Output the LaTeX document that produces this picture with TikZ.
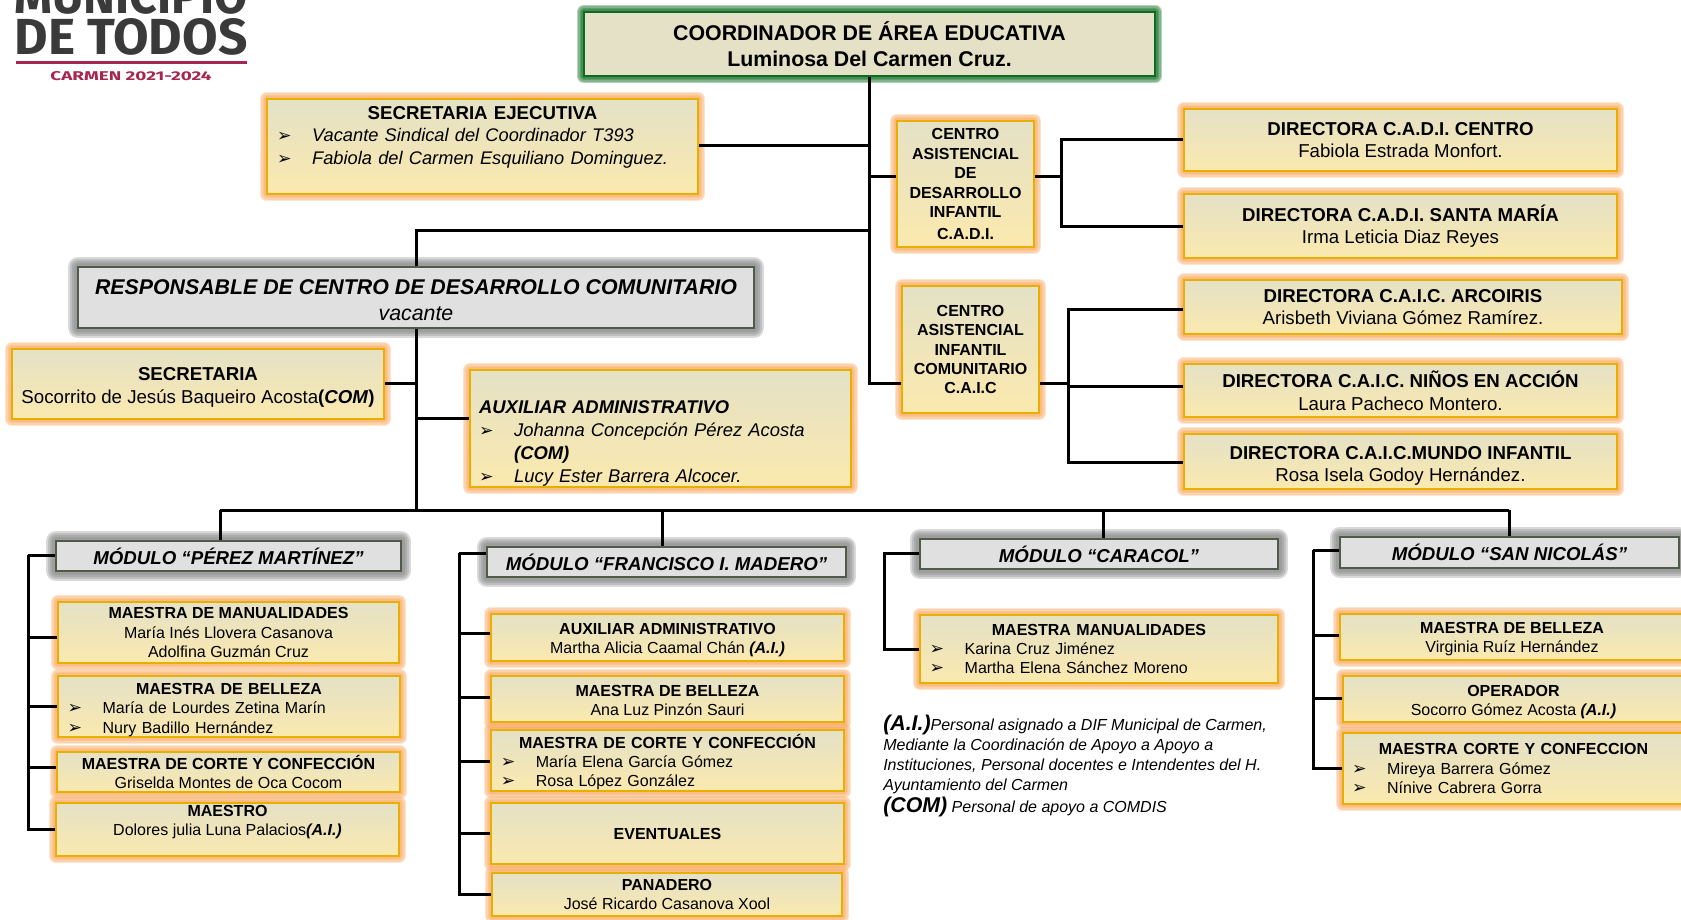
\documentclass[tikz,border=0pt]{standalone}
\usepackage{fontspec}
\usepackage{graphicx}
\setmainfont{Liberation Sans}
\newfontfamily\dingfont{DejaVu Sans}
\newfontfamily\logofont{Fira Sans}
\definecolor{edgeorange}{HTML}{E8AE00}
\definecolor{gloworange}{HTML}{F9A860}
\definecolor{edgegray}{HTML}{4F5B47}
\definecolor{edgegreen}{HTML}{0B6B1E}
\definecolor{logogray}{HTML}{3A3A3A}
\definecolor{logored}{HTML}{A6264F}
\definecolor{E4}{HTML}{E4E1C6}
\definecolor{B4}{HTML}{FBE9AE}
\newcommand{\itemrow}[1]{\makebox[\hsize][l]{\hspace*{6pt}\makebox[26.25pt][l]{\dingfont\fontsize{13}{9}\selectfont ➢}#1}}
\newcommand{\topgap}[1]{\rule{0pt}{#1pt}}
\tikzset{
  conn/.style={line width=2.25pt, black},
  spot/.style n args={4}{at={({(#1+#3)/2},{(#2+#4)/2})}, minimum width={(#3-#1)*.75}, minimum height={(#4-#2)*.75}},
  glow/.style 2 args={
    preaction={draw=#1, draw opacity=.3, line width=#2, line join=round},
    preaction={draw=#1, draw opacity=.3, line width=.8*#2, line join=round},
    preaction={draw=#1, draw opacity=.3, line width=.6*#2, line join=round},
    preaction={draw=#1, draw opacity=.3, line width=.4*#2, line join=round}},
  orangebox/.style={glow={gloworange}{11pt}, draw=edgeorange, line width=2.1pt, top color=E4, bottom color=B4, inner sep=0pt, align=center, font=\fontsize{12}{14.6}\selectfont},
  bigbox/.style={orangebox, font=\fontsize{14}{17}\selectfont},
  graybox/.style={glow={gray}{15pt}, draw=edgegray, line width=2.1pt, fill=black!12, inner sep=0pt, align=center, font=\bfseries\itshape\fontsize{14}{17}\selectfont},
  greenbox/.style={glow={edgegreen}{11pt}, draw=edgegreen, line width=2.1pt, fill=E4, inner sep=0pt, align=center, font=\bfseries\fontsize{16}{19.5}\selectfont}
}
\begin{document}
\begin{tikzpicture}[x=.75pt, y=-.75pt]
\useasboundingbox (0,0) rectangle (1681,920);
\clip (0,0) rectangle (1681,920);
\node[text=logogray, inner sep=0pt] (logoTop) at (131,-4) {\resizebox{174.75pt}{27pt}{\logofont\bfseries MUNICIPIO}};
\node[text=logogray, inner sep=0pt] (logoMid) at (131,37) {\resizebox{174.75pt}{27pt}{\logofont\bfseries DE TODOS}};
\fill[logored] (16,61) rectangle (247,64.5);
\node[text=logored, inner sep=0pt] (logoSub) at (131,76.5) {\resizebox{120.75pt}{6.75pt}{\logofont\bfseries CARMEN 2021-2024}};

\node[greenbox, spot={584}{12}{1155}{76}] (coord) {COORDINADOR DE ÁREA EDUCATIVA\\Luminosa Del Carmen Cruz.};
\node[bigbox, text width=320pt, spot={267}{99}{698}{194}] (secEje) {\textbf{SECRETARIA EJECUTIVA}\\\itemrow{\fontsize{13.7}{17}\itshape Vacante Sindical del Coordinador T393}\\\itemrow{\fontsize{13.7}{17}\itshape Fabiola del Carmen Esquiliano Dominguez.\rule[-17pt]{0pt}{0pt}}};
\node[orangebox, font=\bfseries\fontsize{12}{14.6}\selectfont, spot={897}{121}{1034}{247}] (cadi) {CENTRO\\ASISTENCIAL\\DE\\DESARROLLO\\INFANTIL\\[1.5pt]C.A.D.I.};
\node[orangebox, font=\bfseries\fontsize{12}{14.4}\selectfont, spot={902}{286}{1039}{413}] (caic) {CENTRO\\ASISTENCIAL\\INFANTIL\\COMUNITARIO\\C.A.I.C};
\node[bigbox, spot={1184}{109}{1617}{171}] (dirCentro) {\textbf{DIRECTORA C.A.D.I. CENTRO}\\Fabiola Estrada Monfort.};
\node[bigbox, spot={1184}{194}{1617}{258}] (dirSanta) {\textbf{DIRECTORA C.A.D.I. SANTA MARÍA}\\Irma Leticia Diaz Reyes};
\node[bigbox, spot={1184}{280}{1622}{334}] (dirArco) {\textbf{DIRECTORA C.A.I.C. ARCOIRIS}\\Arisbeth Viviana Gómez Ramírez.};
\node[bigbox, spot={1184}{364}{1617}{417}] (dirNinos) {\textbf{DIRECTORA C.A.I.C. NIÑOS EN ACCIÓN}\\Laura Pacheco Montero.};
\node[bigbox, spot={1184}{434}{1617}{489}] (dirMundo) {\topgap{16.5}\textbf{DIRECTORA C.A.I.C.MUNDO INFANTIL}\\Rosa Isela Godoy Hernández.};
\node[graybox, font=\fontsize{16}{19.5}\selectfont\itshape, spot={78}{267}{754}{328}] (resp) {\topgap{15}\textbf{RESPONSABLE DE CENTRO DE DESARROLLO COMUNITARIO}\\vacante};
\node[bigbox, spot={12}{349}{384}{419}] (secre) {\topgap{15}\textbf{SECRETARIA}\\Socorrito de Jesús Baqueiro Acosta\textbf{(\textit{COM})}};
\node[bigbox, text width=284pt, spot={470}{370}{851}{487}, font=\itshape\fontsize{13.8}{17.25}\selectfont] (auxAdm) {\makebox[\hsize][l]{\hspace*{6pt}\topgap{32}\textbf{AUXILIAR ADMINISTRATIVO}}\\\itemrow{Johanna Concepción Pérez Acosta}\\\makebox[\hsize][l]{\hspace*{32.25pt}\textbf{(COM)}}\\\itemrow{Lucy Ester Barrera Alcocer.}};

\node[graybox, spot={56}{541}{401}{571}] (modPerez) {MÓDULO “PÉREZ MARTÍNEZ”};
\node[graybox, spot={487}{547}{846}{577}] (modMadero) {MÓDULO “FRANCISCO I. MADERO”};
\node[graybox, spot={920}{539}{1278}{569}] (modCaracol) {MÓDULO “CARACOL”};
\node[graybox, spot={1340}{537}{1679}{568}] (modSan) {MÓDULO “SAN NICOLÁS”};

\node[orangebox, spot={58}{602}{399}{663}] (perManual) {\textbf{MAESTRA DE MANUALIDADES}\\María Inés Llovera Casanova\\Adolfina Guzmán Cruz};
\node[orangebox, text width=254pt, spot={58}{676}{400}{737}] (perBelleza) {\topgap{13.5}\textbf{MAESTRA DE BELLEZA}\\\itemrow{María de Lourdes Zetina Marín}\\\itemrow{Nury Badillo Hernández}};
\node[orangebox, spot={57}{752}{400}{792}] (perCorte) {\textbf{MAESTRA DE CORTE Y CONFECCIÓN}\\Griselda Montes de Oca Cocom};
\node[orangebox, spot={56}{803}{399}{856}] (perMaestro) {\textbf{MAESTRO}\\Dolores julia Luna Palacios\textbf{\textit{(A.I.)}}\rule[-13.5pt]{0pt}{0pt}};

\node[orangebox, spot={491}{614}{844}{661}] (madAux) {\topgap{12.6}\textbf{AUXILIAR ADMINISTRATIVO}\\Martha Alicia Caamal Chán \textbf{\textit{(A.I.)}}};
\node[orangebox, spot={491}{676}{844}{722}] (madBelleza) {\topgap{11}\textbf{MAESTRA DE BELLEZA}\\Ana Luz Pinzón Sauri};
\node[orangebox, text width=262pt, spot={491}{730}{844}{791}] (madCorte) {\topgap{13}\textbf{MAESTRA DE CORTE Y CONFECCIÓN}\\\itemrow{María Elena García Gómez}\\\itemrow{Rosa López González}};
\node[orangebox, font=\bfseries\fontsize{12}{14.6}\selectfont, spot={491}{803}{844}{864}] (madEvent) {EVENTUALES};
\node[orangebox, spot={492}{873}{842}{916}] (madPan) {\textbf{PANADERO}\\José Ricardo Casanova Xool};

\node[orangebox, text width=266pt, spot={920}{615}{1278}{683}] (carManual) {\textbf{MAESTRA MANUALIDADES}\\\itemrow{Karina Cruz Jiménez}\\\itemrow{Martha Elena Sánchez Moreno}};
\node[anchor=north west, inner sep=0pt, align=left, font=\itshape\fontsize{12}{15}\selectfont] (noteBox) at (883,715) {\textbf{\fontsize{16}{15}\selectfont (A.I.)}Personal asignado a DIF Municipal de Carmen,\\Mediante la Coordinación de Apoyo a Apoyo a\\Instituciones, Personal docentes e Intendentes del H.\\Ayuntamiento del Carmen\\[1.5pt]\textbf{\fontsize{16}{15}\selectfont (COM)} Personal de apoyo a COMDIS};

\node[orangebox, spot={1340}{614}{1684}{660}] (sanBelleza) {\topgap{11.8}\textbf{MAESTRA DE BELLEZA}\\Virginia Ruíz Hernández};
\node[orangebox, spot={1343}{676}{1684}{722}] (sanOper) {\topgap{12.6}\textbf{OPERADOR}\\Socorro Gómez Acosta \textbf{\textit{(A.I.)}}};
\node[orangebox, text width=254pt, spot={1343}{733}{1684}{804}] (sanCorte) {\textbf{MAESTRA CORTE Y CONFECCION}\\\itemrow{Mireya Barrera Gómez}\\\itemrow{Nínive Cabrera Gorra}};

\draw[conn] (coord.south) |- (caic.west |- 0,383);
\draw[conn] (secEje.east |- 0,146) -- (coord.south |- 0,146);
\draw[conn] (cadi.west |- 0,177) -- (coord.south |- 0,177);
\draw[conn] (coord.south |- 0,230) -| (resp.north);

\coordinate (forkCadi) at (1061,177);
\draw[conn] (cadi.east |- forkCadi) -- (forkCadi);
\foreach \dirname/\branchy in {dirCentro/140, dirSanta/226}
  \draw[conn] (forkCadi) |- (\dirname.west |- 0,\branchy);
\coordinate (forkCaic) at (1068,383);
\draw[conn] (caic.east |- forkCaic) -- (forkCaic);
\foreach \dirname/\branchy in {dirArco/309, dirNinos/386, dirMundo/462}
  \draw[conn] (forkCaic) |- (\dirname.west |- 0,\branchy);

\coordinate (busLeft) at (220,510);
\coordinate (busRight) at (1509,510);
\draw[conn] (busLeft) -- (busRight);
\draw[conn] (resp.south) -- (resp.south |- busLeft);
\draw[conn] (secre.east |- 0,383) -- (resp.south |- 0,383);
\draw[conn] (auxAdm.west |- 0,418) -- (resp.south |- 0,418);
\foreach \modname/\dropx in {modPerez/220, modMadero/662, modCaracol/1103, modSan/1509}
  \draw[conn] (\dropx,510) -- (\modname.north -| \dropx,510);

\coordinate (railPerez) at (28,555);
\draw[conn] (modPerez.west |- railPerez) -- (railPerez);
\foreach \boxname/\branchy in {perManual/637, perBelleza/706, perCorte/767, perMaestro/829}
  \draw[conn] (railPerez) |- (\boxname.west |- 0,\branchy);
\coordinate (railMadero) at (459,553);
\draw[conn] (modMadero.west |- railMadero) -- (railMadero);
\foreach \boxname/\branchy in {madAux/633, madBelleza/697, madCorte/761, madEvent/833, madPan/894}
  \draw[conn] (railMadero) |- (\boxname.west |- 0,\branchy);
\coordinate (railCaracol) at (884,553);
\draw[conn] (modCaracol.west |- railCaracol) -- (railCaracol) |- (carManual.west |- 0,649);
\coordinate (railSan) at (1313,550);
\draw[conn] (modSan.west |- railSan) -- (railSan);
\foreach \boxname/\branchy in {sanBelleza/635, sanOper/698, sanCorte/768}
  \draw[conn] (railSan) |- (\boxname.west |- 0,\branchy);
\end{tikzpicture}
\end{document}
